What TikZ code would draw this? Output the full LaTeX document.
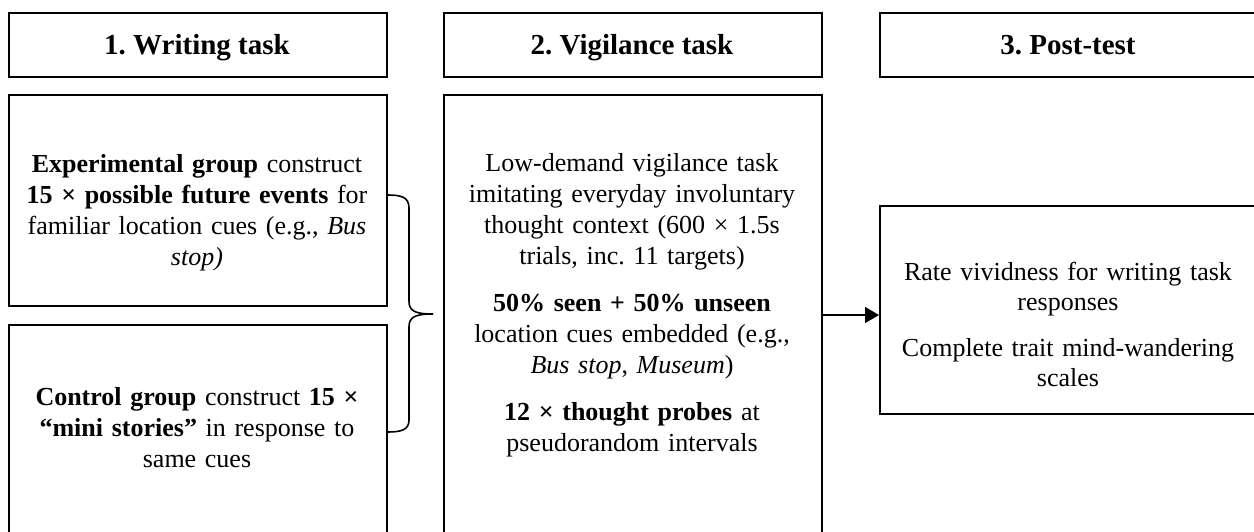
\documentclass[tikz,border=0pt]{standalone}
\usepackage{fontspec}
\setmainfont{Liberation Serif}
\usetikzlibrary{arrows.meta}
\frenchspacing
\begin{document}
\begin{tikzpicture}[x=1pt,y=-1pt,
  frame/.style={draw=black, line width=1.6pt, inner sep=0pt, anchor=north west},
  head/.style={font=\fontsize{29}{34}\selectfont\bfseries, anchor=base, inner sep=0pt},
  body/.style={font=\fontsize{26}{31}\selectfont, anchor=base, inner sep=0pt, text width=372pt, align=center},
  link/.style={draw=black, line width=1.6pt},
]
\useasboundingbox (0,0) rectangle (1254,531);
\clip (0,0) rectangle (1254,531);

% header boxes
\node[frame, minimum width=378pt, minimum height=64pt] (hdr1) at (8,12) {};
\node[frame, minimum width=378pt, minimum height=64pt] (hdr2) at (443,12) {};
\node[frame, minimum width=378pt, minimum height=64pt] (hdr3) at (879,12) {};
\node[head] (hdr1t) at (197,54) {\frenchspacing 1. Writing task};
\node[head] (hdr2t) at (632,54) {\frenchspacing 2. Vigilance task};
\node[head] (hdr3t) at (1068,54) {\frenchspacing 3. Post-test};

% content boxes
\node[frame, minimum width=378pt, minimum height=211pt] (exp) at (8,94) {};
\node[frame, minimum width=378pt, minimum height=230pt] (ctrl) at (8,324) {};
\node[frame, minimum width=378pt, minimum height=460pt] (vig) at (443,94) {};
\node[frame, minimum width=378pt, minimum height=208pt] (post) at (879,205) {};

\node[body] (expt) at (197,172) {\frenchspacing\textbf{Experimental group} construct\\
\textbf{15 × possible future events} for\\
familiar location cues (e.g., \textit{Bus}\\
\textit{stop)}};

\node[body] (ctrlt) at (197,405) {\frenchspacing\textbf{Control group} construct \textbf{15 ×}\\
\textbf{“mini stories”} in response to\\
same cues};

\node[body] (vigt) at (632,171) {\frenchspacing Low-demand vigilance task\\
imitating everyday involuntary\\
thought context (600 × 1.5s\\
trials, inc. 11 targets)\\[16pt]
\textbf{50\% seen + 50\% unseen}\\
location cues embedded (e.g.,\\
\textit{Bus stop}, \textit{Museum})\\[16pt]
\textbf{12 × thought probes} at\\
pseudorandom intervals};

\node[body, font=\fontsize{26}{30}\selectfont] (postt) at (1068,280) {\frenchspacing Rate vividness for writing task\\
responses\\[16pt]
Complete trait mind-wandering\\
scales};

% brace joining the two groups
\coordinate (bt) at (exp.east |- 0,195);
\coordinate (bb) at (ctrl.east |- 0,432);
\coordinate (tip) at (433,314);
\draw[link] (bt) .. controls (401,195) and (409,197) .. (409,208) -- (409,301)
  .. controls (409,311) and (415,314) .. (tip)
  .. controls (415,314) and (409,317) .. (409,327) -- (409,420)
  .. controls (409,430) and (401,432) .. (bb);

% arrow
\coordinate (ay) at (0,315);
\draw[link, -{Triangle[length=14pt,width=16pt]}] (vig.east |- ay) -- (post.west |- ay);
\end{tikzpicture}
\end{document}
